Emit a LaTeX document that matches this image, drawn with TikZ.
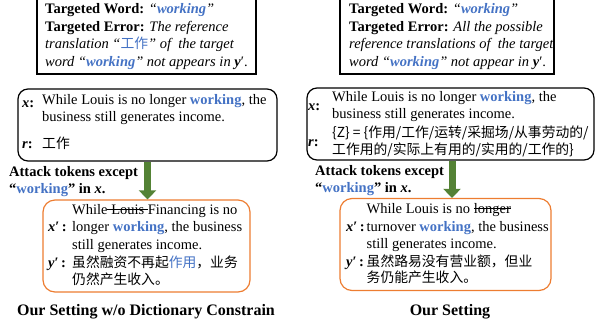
\documentclass[tikz,border=0pt]{standalone}
\usepackage{fontspec}
\setmainfont{Liberation Serif}
\newfontfamily\cjk{Noto Sans CJK SC}
\usetikzlibrary{arrows.meta}
\definecolor{wblue}{RGB}{68,114,196}
\definecolor{agreen}{RGB}{84,130,53}
\definecolor{borange}{RGB}{237,125,49}
\newcommand\fs{\fontsize{14.5}{17}\selectfont}
\newcommand\cj{\cjk\fontsize{13.8}{17}\selectfont}
\newcommand\strk[2]{\setbox0\hbox{#2}\rlap{\kern-#1\rule[0.27em]{\dimexpr\wd0+#1+#1\relax}{0.7pt}}\box0\relax}
\newcommand\wk{{\bfseries\color{wblue}working}}
\tikzset{
  tl/.style={anchor=base west, inner sep=0pt, font=\fs},
  topbox/.style={draw, line width=1.2pt, inner sep=0pt},
  midbox/.style={draw, line width=1.2pt, rounded corners=10pt, inner sep=0pt},
  orbox/.style={draw=borange, line width=1.2pt, rounded corners=12pt, inner sep=0pt},
  garrow/.style={draw=agreen, line width=7pt, -{Triangle[width=17pt,length=9pt]}, shorten >=0pt},
  captxt/.style={anchor=base, inner sep=0pt, font=\bfseries\fontsize{16}{19}\selectfont}
}
\begin{document}
\begin{tikzpicture}[x=1pt,y=-1pt]
\useasboundingbox (0,0) rectangle (597,325);
% boxes
\node[topbox, minimum width=219pt, minimum height=78pt] (tbl) at (146.5,35) {};
\node[topbox, minimum width=214pt, minimum height=78pt] (tbr) at (447,35) {};
\node[midbox, minimum width=259pt, minimum height=72pt] (xl) at (147.5,125) {};
\node[midbox, minimum width=287pt, minimum height=72pt] (xr) at (450.5,124) {};
\node[orbox, minimum width=207pt, minimum height=92pt] (ol) at (146.5,246) {};
\node[orbox, minimum width=211pt, minimum height=92pt] (or) at (445.5,244.5) {};
% arrows
\draw[garrow] (xl.south) -- (xl.south |- ol.north);
\draw[garrow] ([xshift=1.5pt]xr.south) -- ([xshift=1.5pt]xr.south |- or.north);
% top left text
\node[tl] (a1) at (45,13.5) {\textbf{Targeted Word:} \textit{“\textbf{\color{wblue}working}”}};
\node[tl] (a2) at (45,31) {\textbf{Targeted Error:} \textit{The reference}};
\node[tl] (a3) at (45,48.5) {\textit{translation “{\cj\color{wblue}工作}” of\ \ the target}};
\node[tl] (a4) at (45,66) {\textit{word “\textbf{\color{wblue}working}” not appears in} \textbf{\textit{y}}′.};
% top right text
\node[tl] (b1) at (349,13.5) {\textbf{Targeted Word:} \textit{“\textbf{\color{wblue}working}”}};
\node[tl] (b2) at (349,31) {\textbf{Targeted Error:} \textit{All the possible}};
\node[tl] (b3) at (349,48.5) {\textit{reference translations of\ \ the target}};
\node[tl] (b4) at (349,66) {\textit{word “\textbf{\color{wblue}working}” not appear in} \textbf{\textit{y}}′.};
% left x box
\node[tl] (c0) at (22,107) {\textbf{\textit{x}:}};
\node[tl] (c1) at (42,104) {While Louis is no longer \wk, the};
\node[tl] (c2) at (42,121) {business still generates income.};
\node[tl] (c3) at (22,148) {\textbf{\textit{r}:}};
\node[tl] (c4) at (42,148) {\cj 工作};
% right x box
\node[tl] (d0) at (308,110) {\textbf{\textit{x}:}};
\node[tl] (d1) at (332,101) {While Louis is no longer \wk, the};
\node[tl] (d2) at (332,118) {business still generates income.};
\node[tl] (d3) at (308,146) {\textbf{\textit{r}:}};
\node[tl] (d4) at (332,137) {\cj \{Z\} = \{作用/工作/运转/采掘场/从事劳动的/};
\node[tl] (d5) at (332,154) {\cj 工作用的/实际上有用的/实用的/工作的\}};
% attack labels
\node[tl] (e1) at (9,176) {\textbf{Attack tokens except}};
\node[tl] (e2) at (9,193) {\textbf{“{\color{wblue}working}” in \textit{x}.}};
\node[tl] (f1) at (315,175) {\textbf{Attack tokens except}};
\node[tl] (f2) at (315,192) {\textbf{“{\color{wblue}working}” in \textit{x}.}};
% left orange
\node[tl] (g0) at (48,231.5) {\textbf{\textit{x}′\,:}};
\node[tl] (g1) at (72,214) {While \strk{4pt}{Louis} Financing is no};
\node[tl] (g2) at (72,231.5) {longer \wk, the business};
\node[tl] (g3) at (72,249) {still generates income.};
\node[tl] (g4) at (48,267) {\textbf{\textit{y}′\,:}};
\node[tl] (g5) at (72,267) {\cj 虽然融资不再起{\color{wblue}作用}，业务};
\node[tl] (g6) at (72,284) {\cj 仍然产生收入。};
% right orange
\node[tl] (h0) at (346,231) {\textbf{\textit{x}′\,:}};
\node[tl] (h1) at (366.5,213) {While Louis is no \strk{0pt}{longer}};
\node[tl] (h2) at (366.5,231) {turnover \wk, the business};
\node[tl] (h3) at (366.5,248) {still generates income.};
\node[tl] (h4) at (346,266) {\textbf{\textit{y}′\,:}};
\node[tl] (h5) at (366.5,266) {\cj 虽然路易没有营业额，但业};
\node[tl] (h6) at (366.5,282) {\cj 务仍能产生收入。};
% captions
\node[captxt] (k1) at (146,315) {Our Setting w/o Dictionary Constrain};
\node[captxt] (k2) at (450,315) {Our Setting};
\end{tikzpicture}
\end{document}
